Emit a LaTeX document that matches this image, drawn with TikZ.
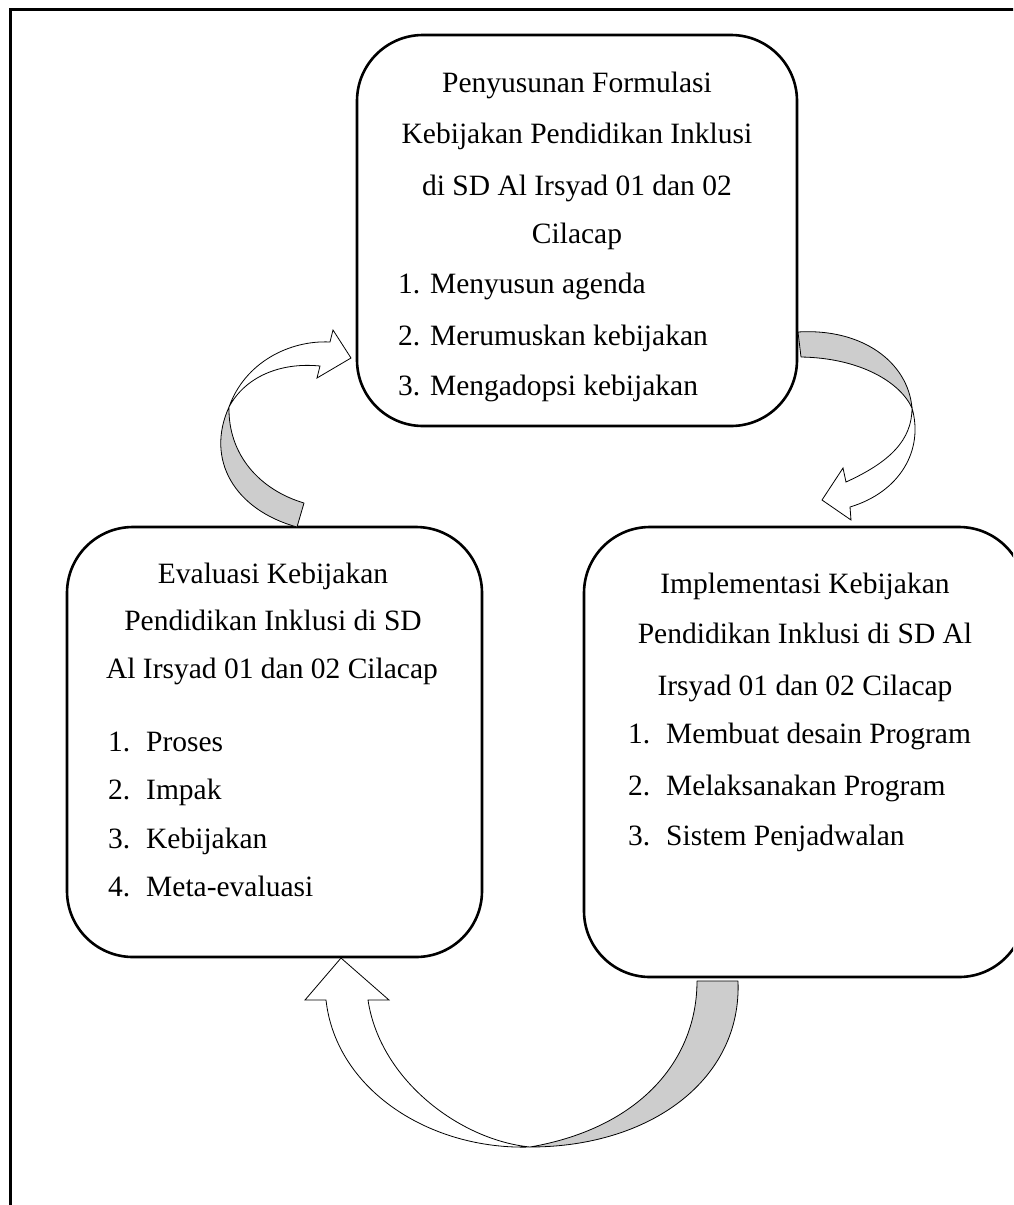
\documentclass[tikz,border=0pt]{standalone}
\usepackage{fontspec}
\setmainfont{Liberation Serif}
\definecolor{arrgray}{RGB}{205,205,205}
\begin{document}
\begin{tikzpicture}[x=1pt,y=-1pt,
  box/.style={draw=black,line width=2.6pt,rounded corners=66pt,inner sep=0pt,fill=white},
  txt/.style={inner sep=0pt,anchor=base,font=\fontsize{29.5}{34}\selectfont},
  itm/.style={inner sep=0pt,anchor=base west,font=\fontsize{29.5}{34}\selectfont},
  grayarr/.style={draw=black,line width=0.8pt,fill=arrgray,line join=round},
  whitearr/.style={draw=black,line width=0.8pt,fill=white,line join=miter}]
\useasboundingbox (0,0) rectangle (1013,1205);
\clip (0,0) rectangle (1013,1205);
\fill[white] (0,0) rectangle (1013,1205);
% outer frame
\draw[line width=3pt] (10,1240) -- (10,9) -- (1040,9);

% boxes
\node[box,minimum width=440pt,minimum height=391pt] (top) at (577,230.5) {};
\node[box,minimum width=415pt,minimum height=430pt] (left) at (274.5,742) {};
\node[box,minimum width=441pt,minimum height=450pt] (right) at (804.5,752) {};

% top box text
\node[txt] (t1) at (577,92) {Penyusunan Formulasi};
\node[txt] (t2) at (577,143) {Kebijakan Pendidikan Inklusi};
\node[txt] (t3) at (577,195) {di SD Al Irsyad 01 dan 02};
\node[txt] (t4) at (577,243) {Cilacap};
\node[itm] (t5) at (398,293) {1. Menyusun agenda};
\node[itm] (t6) at (398,345) {2. Merumuskan kebijakan};
\node[itm] (t7) at (398,395) {3. Mengadopsi kebijakan};

% left box text
\node[txt] (l1) at (273,583) {Evaluasi Kebijakan};
\node[txt] (l2) at (273,630) {Pendidikan Inklusi di SD};
\node[txt] (l3) at (272,678) {Al Irsyad 01 dan 02 Cilacap};
\node[itm] (l4) at (108,751) {\makebox[38pt][l]{1.}Proses};
\node[itm] (l5) at (108,799) {\makebox[38pt][l]{2.}Impak};
\node[itm] (l6) at (108,848) {\makebox[38pt][l]{3.}Kebijakan};
\node[itm] (l7) at (108,896) {\makebox[38pt][l]{4.}Meta-evaluasi};

% right box text
\node[txt] (r1) at (805,593) {Implementasi Kebijakan};
\node[txt] (r2) at (805,643) {Pendidikan Inklusi di SD Al};
\node[txt] (r3) at (805,695) {Irsyad 01 dan 02 Cilacap};
\node[itm] (r4) at (628,743) {\makebox[38pt][l]{1.}Membuat desain Program};
\node[itm] (r5) at (628,795) {\makebox[38pt][l]{2.}Melaksanakan Program};
\node[itm] (r6) at (628,845) {\makebox[38pt][l]{3.}Sistem Penjadwalan};

% curved arrow: left box -> top box
\coordinate (xa) at (229,407);
\filldraw[grayarr] (297,527) .. controls (235,510) and (205,460) .. (xa)
  .. controls (228,455) and (260,490) .. (304,503) -- cycle;
\filldraw[whitearr] (xa) .. controls (245,362) and (290,340) .. (330,342)
  -- (333,330) -- (351,358) -- (317,378) -- (320,366)
  .. controls (280,362) and (245,377) .. (xa) -- cycle;

% curved arrow: top box -> right box
\coordinate (xb) at (912,408);
\filldraw[grayarr] (798,332) .. controls (862,328) and (908,362) .. (xb)
  .. controls (900,382) and (860,358) .. (801,357) -- cycle;
\filldraw[whitearr] (xb) .. controls (924,450) and (900,492) .. (850,507)
  -- (851,520) -- (822,500) -- (843,468) -- (846,482)
  .. controls (890,462) and (912,440) .. (xb) -- cycle;

% curved arrow: right box -> left box
\coordinate (xc) at (530,1147);
\filldraw[grayarr] (738,981) .. controls (742,1080) and (650,1147) .. (xc)
  .. controls (640,1128) and (697,1060) .. (697,981) -- cycle;
\filldraw[whitearr] (xc) .. controls (430,1150) and (336,1090) .. (326,1000)
  -- (305,1000) -- (341,958) -- (389,1000) -- (368,1000)
  .. controls (380,1080) and (460,1140) .. (xc) -- cycle;
\end{tikzpicture}
\end{document}
